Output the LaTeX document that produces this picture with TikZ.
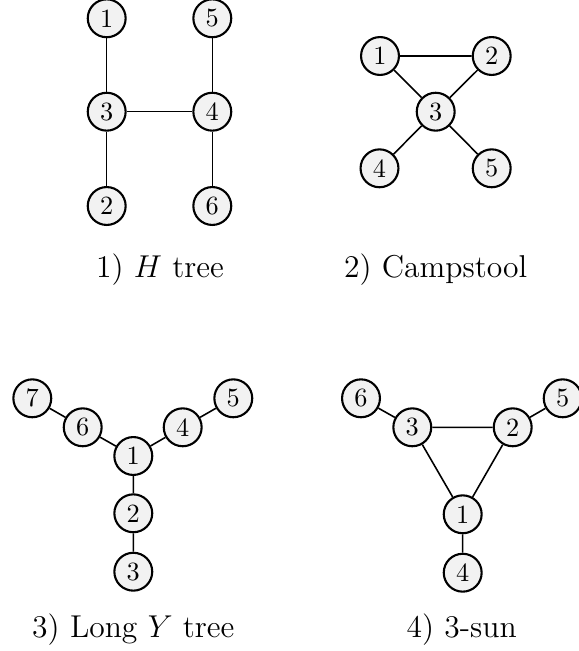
\documentclass[tikz,border=0pt]{standalone}
\begin{document}
\begin{tikzpicture}[x=0.38pt,y=-0.38pt,
  vtx/.style={circle,draw,fill=gray!10,line width=0.8pt,minimum size=14.4pt,inner sep=0pt,font=\fontsize{10}{12}\selectfont},
  edge/.style={line width=0.6pt},
  captext/.style={font=\large}]
\useasboundingbox (0,0) rectangle (579,651);
% 1) H tree
\node[vtx] (a1) at (106.7,18.3) {1};
\node[vtx] (a5) at (212.3,18.3) {5};
\node[vtx] (a3) at (106.7,111.7) {3};
\node[vtx] (a4) at (212.3,111.7) {4};
\node[vtx] (a2) at (106.7,206) {2};
\node[vtx] (a6) at (212.3,206) {6};
\draw[edge] (a1) -- (a3) (a3) -- (a2) (a3) -- (a4) (a5) -- (a4) (a4) -- (a6);
\node[captext] (capa) at (160,270) {1) $H$ tree};
% 2) Campstool
\node[vtx] (b1) at (380,56) {1};
\node[vtx] (b2) at (491.7,56) {2};
\node[vtx] (b3) at (435.7,111.7) {3};
\node[vtx] (b4) at (379.5,168.3) {4};
\node[vtx] (b5) at (491.7,168.3) {5};
\draw[edge] (b1) -- (b2) (b1) -- (b3) (b2) -- (b3) (b3) -- (b4) (b3) -- (b5);
\node[captext] (capb) at (435.7,270) {2) Campstool};
% 3) Long Y tree
\node[vtx] (c7) at (32.3,398.3) {7};
\node[vtx] (c6) at (82.7,427.3) {6};
\node[vtx] (c1) at (133.3,456) {1};
\node[vtx] (c4) at (182.7,427.3) {4};
\node[vtx] (c5) at (233.3,398.3) {5};
\node[vtx] (c2) at (133.3,513.3) {2};
\node[vtx] (c3) at (133.3,571.7) {3};
\draw[edge] (c7) -- (c6) (c6) -- (c1) (c1) -- (c4) (c4) -- (c5) (c1) -- (c2) (c2) -- (c3);
\node[captext] (capc) at (133.3,630) {3) Long $Y$ tree};
% 4) 3-sun
\node[vtx] (d6) at (361,398.3) {6};
\node[vtx] (d3) at (412.3,427.3) {3};
\node[vtx] (d2) at (512.7,427.3) {2};
\node[vtx] (d5) at (562.7,398.3) {5};
\node[vtx] (d1) at (462.7,514.3) {1};
\node[vtx] (d4) at (462.7,572.7) {4};
\draw[edge] (d6) -- (d3) (d3) -- (d2) (d2) -- (d5) (d3) -- (d1) (d2) -- (d1) (d1) -- (d4);
\node[captext] (capd) at (461.7,630) {4) 3-sun};
\end{tikzpicture}
\end{document}
